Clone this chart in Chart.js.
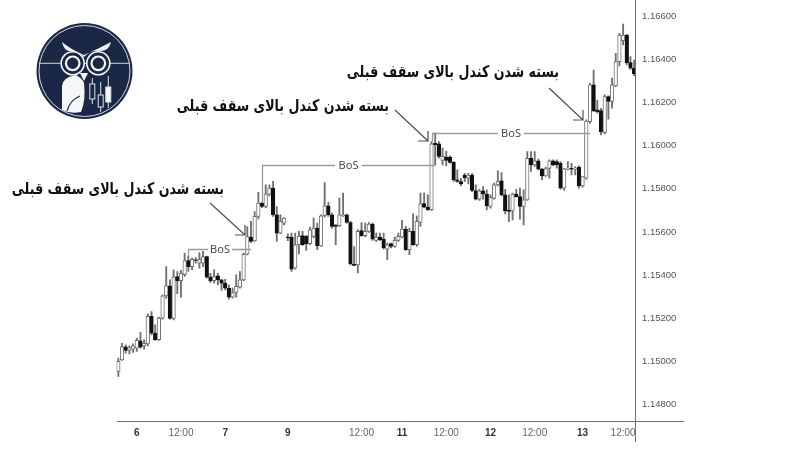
<!DOCTYPE html>
<html>
<head>
<meta charset="utf-8">
<title>BoS</title>
<script src="https://cdn.jsdelivr.net/npm/chart.js@4"></script>
<style>
  html, body { margin: 0; background: #fff; }
  #wrap { position: relative; width: 800px; height: 450px; overflow: hidden; }
  #logo { position: absolute; left: 20px; top: 10px; }
</style>
</head>
<body>
<div id="wrap">
<canvas id="chart" width="800" height="450"></canvas>
<svg id="logo" width="120" height="120" viewBox="0 0 120 120">
  <circle cx="64.5" cy="61" r="48" fill="#1a2846"/>
  <circle cx="64.5" cy="61" r="45.5" fill="none" stroke="#e8ecf0" stroke-width="0.9"/>
  <line x1="19" y1="53.3" x2="110" y2="53.3" stroke="#cfd5dc" stroke-width="1"/>
  <path d="M42 32 Q50 39 64 45 Q78 39 91 32 Q89 42 78 41 Q70 40 64 47 Q58 40 50 41 Q44 41 42 32Z" fill="#f2f4f6"/>
  <g fill="#1a2846" stroke="#f2f4f6">
    <circle cx="52.7" cy="53.3" r="11.5" stroke-width="1.6"/>
    <circle cx="78.3" cy="53.3" r="11.5" stroke-width="1.6"/>
    <circle cx="52.7" cy="53.3" r="6.8" stroke-width="2.2"/>
    <circle cx="78.3" cy="53.3" r="6.8" stroke-width="2.2"/>
  </g>
  <path d="M60 63 L68 63 L64 71Z" fill="#f2f4f6"/>
  <path d="M42 76 Q43 67 56 65 Q62 68 64 73 Q66 90 61 102 Q50 104 42 100Z" fill="#f4f6f8"/>
  <path d="M47 101 Q50 90 60 86" fill="none" stroke="#1a2846" stroke-width="1.1"/>
  <g stroke="#dfe3e8" stroke-width="1" fill="none">
    <line x1="72.3" y1="68" x2="72.3" y2="94"/>
    <line x1="80.7" y1="72" x2="80.7" y2="102"/>
    <line x1="88.3" y1="66" x2="88.3" y2="98"/>
    <rect x="69.8" y="74" width="5" height="15" fill="#1a2846"/>
    <rect x="78.2" y="85" width="5" height="12" fill="#1a2846"/>
    <rect x="85.8" y="77" width="5" height="15" fill="#f4f6f8"/>
  </g>
</svg>
</div>
<script>
const opens = [
  1.14954,1.15008,1.15068,1.15052,1.15058,1.15062,1.15096,1.15073,1.15082,1.15209,
  1.15132,1.15101,1.15201,1.15304,1.15351,1.15200,1.15394,1.15375,1.15402,1.15468,
  1.15440,1.15471,1.15456,1.15456,1.15486,1.15391,1.15375,1.15397,1.15378,1.15363,
  1.15340,1.15298,1.15320,1.15344,1.15378,1.15497,1.15576,1.15559,1.15672,1.15734,
  1.15718,1.15775,1.15803,1.15680,1.15595,1.15641,1.15576,1.15576,1.15433,1.15541,
  1.15583,1.15580,1.15546,1.15580,1.15618,1.15536,1.15675,1.15721,1.15680,1.15633,
  1.15629,1.15675,1.15680,1.15644,1.15452,1.15448,1.15606,1.15583,1.15603,1.15637,
  1.15561,1.15576,1.15567,1.15521,1.15546,1.15533,1.15561,1.15576,1.15613,1.15518,
  1.15603,1.15541,1.15644,1.15731,1.15715,1.15703,1.16011,1.16008,1.15931,1.15947,
  1.15947,1.15922,1.15842,1.15833,1.15864,1.15849,1.15864,1.15792,1.15752,1.15790,
  1.15776,1.15718,1.15756,1.15818,1.15837,1.15772,1.15702,1.15698,1.15775,1.15764,
  1.15718,1.15749,1.15941,1.15911,1.15929,1.15891,1.15860,1.15894,1.15929,1.15926,
  1.15918,1.15803,1.15891,1.15895,1.15891,1.15900,1.15813,1.15849,1.16111,1.16281,
  1.16165,1.16162,1.16060,1.16227,1.16204,1.16276,1.16389,1.16486,1.16512,1.16384,
  1.16358
];
const closes = [
  1.15001,1.15070,1.15052,1.15065,1.15073,1.15098,1.15067,1.15085,1.15209,1.15132,
  1.15101,1.15201,1.15304,1.15351,1.15200,1.15391,1.15375,1.15409,1.15468,1.15440,
  1.15474,1.15468,1.15474,1.15486,1.15391,1.15374,1.15394,1.15378,1.15363,1.15340,
  1.15298,1.15320,1.15348,1.15378,1.15497,1.15579,1.15556,1.15672,1.15734,1.15718,
  1.15775,1.15803,1.15680,1.15595,1.15649,1.15664,1.15573,1.15428,1.15541,1.15580,
  1.15541,1.15546,1.15610,1.15618,1.15536,1.15675,1.15721,1.15680,1.15626,1.15626,
  1.15680,1.15680,1.15644,1.15452,1.15445,1.15603,1.15583,1.15603,1.15637,1.15567,
  1.15576,1.15564,1.15526,1.15541,1.15533,1.15561,1.15580,1.15613,1.15518,1.15603,
  1.15541,1.15649,1.15731,1.15715,1.15703,1.16008,1.16004,1.15950,1.15950,1.15931,
  1.15922,1.15842,1.15834,1.15823,1.15852,1.15864,1.15792,1.15752,1.15790,1.15776,
  1.15721,1.15761,1.15818,1.15833,1.15772,1.15699,1.15695,1.15775,1.15764,1.15718,
  1.15749,1.15941,1.15911,1.15929,1.15891,1.15860,1.15894,1.15929,1.15911,1.15911,
  1.15803,1.15892,1.15895,1.15891,1.15895,1.15813,1.15857,1.16114,1.16281,1.16162,
  1.16157,1.16065,1.16227,1.16204,1.16281,1.16389,1.16512,1.16512,1.16384,1.16358,
  1.16332
];
const highs = [
  1.15016,1.15085,1.15078,1.15073,1.15082,1.15109,1.15136,1.15101,1.15221,1.15232,
  1.15170,1.15206,1.15309,1.15440,1.15378,1.15425,1.15417,1.15422,1.15502,1.15489,
  1.15479,1.15482,1.15505,1.15510,1.15489,1.15409,1.15425,1.15409,1.15381,1.15381,
  1.15355,1.15340,1.15402,1.15417,1.15502,1.15625,1.15649,1.15695,1.15784,1.15737,
  1.15818,1.15818,1.15834,1.15718,1.15680,1.15667,1.15592,1.15595,1.15595,1.15603,
  1.15603,1.15583,1.15623,1.15664,1.15641,1.15680,1.15829,1.15737,1.15688,1.15633,
  1.15757,1.15780,1.15683,1.15649,1.15533,1.15611,1.15644,1.15641,1.15644,1.15641,
  1.15595,1.15595,1.15595,1.15549,1.15549,1.15576,1.15595,1.15654,1.15626,1.15618,
  1.15684,1.15675,1.15780,1.15780,1.15772,1.16019,1.16058,1.16019,1.15988,1.15973,
  1.15953,1.15926,1.15888,1.15849,1.15872,1.15872,1.15872,1.15818,1.15798,1.15810,
  1.15795,1.15772,1.15826,1.15883,1.15875,1.15798,1.15772,1.15780,1.15798,1.15803,
  1.15795,1.15972,1.15972,1.15972,1.15937,1.15895,1.15900,1.15934,1.15934,1.15934,
  1.15926,1.15895,1.15926,1.15918,1.15903,1.15906,1.15857,1.16119,1.16288,1.16350,
  1.16211,1.16173,1.16235,1.16230,1.16312,1.16427,1.16520,1.16563,1.16515,1.16412,
  1.16396
];
const lows = [
  1.14931,1.15005,1.15039,1.15035,1.15042,1.15047,1.15062,1.15058,1.15073,1.15124,
  1.15098,1.15098,1.15196,1.15292,1.15196,1.15193,1.15314,1.15298,1.15394,1.15417,
  1.15425,1.15456,1.15432,1.15440,1.15386,1.15366,1.15363,1.15355,1.15329,1.15332,
  1.15289,1.15294,1.15298,1.15340,1.15375,1.15494,1.15552,1.15556,1.15660,1.15713,
  1.15713,1.15767,1.15672,1.15556,1.15592,1.15633,1.15560,1.15418,1.15428,1.15499,
  1.15538,1.15515,1.15541,1.15572,1.15518,1.15533,1.15669,1.15672,1.15618,1.15541,
  1.15626,1.15672,1.15641,1.15448,1.15444,1.15410,1.15580,1.15577,1.15598,1.15561,
  1.15556,1.15560,1.15521,1.15472,1.15526,1.15529,1.15556,1.15572,1.15515,1.15495,
  1.15538,1.15533,1.15626,1.15711,1.15700,1.15700,1.15911,1.15942,1.15911,1.15906,
  1.15919,1.15834,1.15829,1.15813,1.15833,1.15823,1.15787,1.15749,1.15746,1.15752,
  1.15702,1.15710,1.15752,1.15813,1.15767,1.15684,1.15648,1.15656,1.15761,1.15659,
  1.15633,1.15746,1.15880,1.15903,1.15887,1.15841,1.15857,1.15849,1.15907,1.15895,
  1.15798,1.15792,1.15887,1.15864,1.15864,1.15803,1.15807,1.15844,1.16103,1.16157,
  1.16150,1.16049,1.16054,1.16122,1.16173,1.16273,1.16369,1.16466,1.16373,1.16353,
  1.16324
];

const tickIndexes = [5, 17, 29, 46, 66, 77, 89, 101, 113, 126, 137];
const tickTexts = ["6", "12:00", "7", "9", "12:00", "11", "12:00", "12", "12:00", "13", "12:00"];
const yTicks = [1.148, 1.15, 1.152, 1.154, 1.156, 1.158, 1.16, 1.162, 1.164, 1.166];

// structure breaks: start candle, end candle, level, where the left leg stops
const bosFrom = [19, 39, 85];
const bosTo = [36, 86, 128];
const bosLevel = [1.1552, 1.1591, 1.1606];
const bosLeg = [1.15489, 1.15737, 1.16019];
const bosLabel = "BoS";
const noteText = "بسته شدن کندل بالای سقف قبلی";

const labels = opens.map(function (o, i) {
  const k = tickIndexes.indexOf(i);
  return k >= 0 ? tickTexts[k] : "";
});

const overlays = {
  id: "overlays",
  afterDatasetsDraw(chart) {
    const ctx = chart.ctx;
    const x = chart.scales.x;
    const y = chart.scales.y;
    ctx.save();

    // axis lines run past the plot like in the original
    ctx.strokeStyle = "#6e6e6e";
    ctx.lineWidth = 1;
    ctx.beginPath();
    ctx.moveTo(635.5, 0);
    ctx.lineTo(635.5, 442);
    ctx.moveTo(117, 421.5);
    ctx.lineTo(684, 421.5);
    ctx.stroke();

    // BoS brackets
    const gaps = [[208, 232], [335, 362], [498, 524]];
    ctx.font = "11px 'Noto Sans'";
    ctx.textAlign = "center";
    ctx.textBaseline = "middle";
    bosLevel.forEach(function (level, i) {
      const py = Math.round(y.getPixelForValue(level)) + 0.5;
      const x0 = Math.round(x.getPixelForValue(bosFrom[i])) + 0.5;
      const x1 = x.getPixelForValue(bosTo[i]);
      ctx.strokeStyle = "#9a9a9a";
      ctx.lineWidth = 1.3;
      ctx.beginPath();
      ctx.moveTo(x0, y.getPixelForValue(bosLeg[i]));
      ctx.lineTo(x0, py);
      ctx.lineTo(gaps[i][0], py);
      ctx.moveTo(gaps[i][1], py);
      ctx.lineTo(x1, py);
      ctx.stroke();
      ctx.fillStyle = "#4a4a4a";
      ctx.fillText(bosLabel, (gaps[i][0] + gaps[i][1]) / 2, py);
    });

    // arrows
    const arrows = [[210, 203, 245, 235], [395, 110, 428, 141], [549, 88, 583, 120]];
    ctx.strokeStyle = "#505050";
    ctx.lineWidth = 1.2;
    arrows.forEach(function (a) {
      ctx.beginPath();
      ctx.moveTo(a[0], a[1]);
      ctx.lineTo(a[2], a[3]);
      ctx.moveTo(a[2] - 10, a[3]);
      ctx.lineTo(a[2], a[3]);
      ctx.lineTo(a[2], a[3] - 10);
      ctx.stroke();
    });

    // persian notes, squeezed to the width of the original lettering
    const notes = [[224, 190], [389, 107], [559, 73]];
    ctx.font = "bold 16px 'DejaVu Sans'";
    ctx.fillStyle = "#111";
    ctx.direction = "rtl";
    ctx.textAlign = "right";
    notes.forEach(function (n) {
      ctx.save();
      ctx.translate(n[0], n[1]);
      ctx.scale(0.79, 1);
      ctx.fillText(noteText, 0, 0);
      ctx.restore();
    });
    ctx.restore();
  }
};

new Chart(document.getElementById("chart").getContext("2d"), {
  type: "bar",
  plugins: [overlays],
  data: {
    labels: labels,
    datasets: [
      {
        data: opens.map((o, i) => [o, closes[i]]),
        grouped: false,
        order: 1,
        barThickness: 3.6,
        borderWidth: 1,
        borderSkipped: false,
        backgroundColor: opens.map((o, i) => (closes[i] >= o ? "#ffffff" : "#111111")),
        borderColor: opens.map((o, i) => (closes[i] >= o ? "#707070" : "#111111")),
      },
      {
        data: lows.map((l, i) => [l, highs[i]]),
        grouped: false,
        order: 2,
        barThickness: 1.2,
        backgroundColor: "#707070",
      },
    ],
  },
  options: {
    responsive: false,
    animation: false,
    layout: { padding: { left: 116.5, top: 0, right: 0, bottom: 0 } },
    plugins: { legend: { display: false }, tooltip: { enabled: false } },
    scales: {
      x: {
        grid: { display: false, drawTicks: false },
        border: { display: false },
        afterFit(scale) {
          scale.height = 29;
          scale.paddingLeft = 0;
          scale.paddingRight = 0;
        },
        ticks: {
          autoSkip: false,
          maxRotation: 0,
          padding: 6,
          font: (c) => ({
            family: "'Liberation Sans'",
            size: 10,
            weight: c.tick && c.tick.label === "12:00" ? "normal" : "bold",
          }),
          color: (c) => (c.tick && c.tick.label === "12:00" ? "#666" : "#333"),
          callback(value, index) { return labels[index]; },
        },
      },
      y: {
        position: "right",
        min: 1.14725,
        max: 1.16674,
        grid: { display: false, drawTicks: false },
        border: { display: false },
        afterFit(scale) {
          scale.width = 164;
          scale.paddingTop = 0;
          scale.paddingBottom = 0;
        },
        afterBuildTicks(scale) { scale.ticks = yTicks.map((v) => ({ value: v })); },
        ticks: {
          padding: 6,
          font: { family: "'Liberation Sans'", size: 9.5 },
          color: "#555",
          callback(value) { return value.toFixed(5); },
        },
      },
    },
  },
});
</script>
</body>
</html>
